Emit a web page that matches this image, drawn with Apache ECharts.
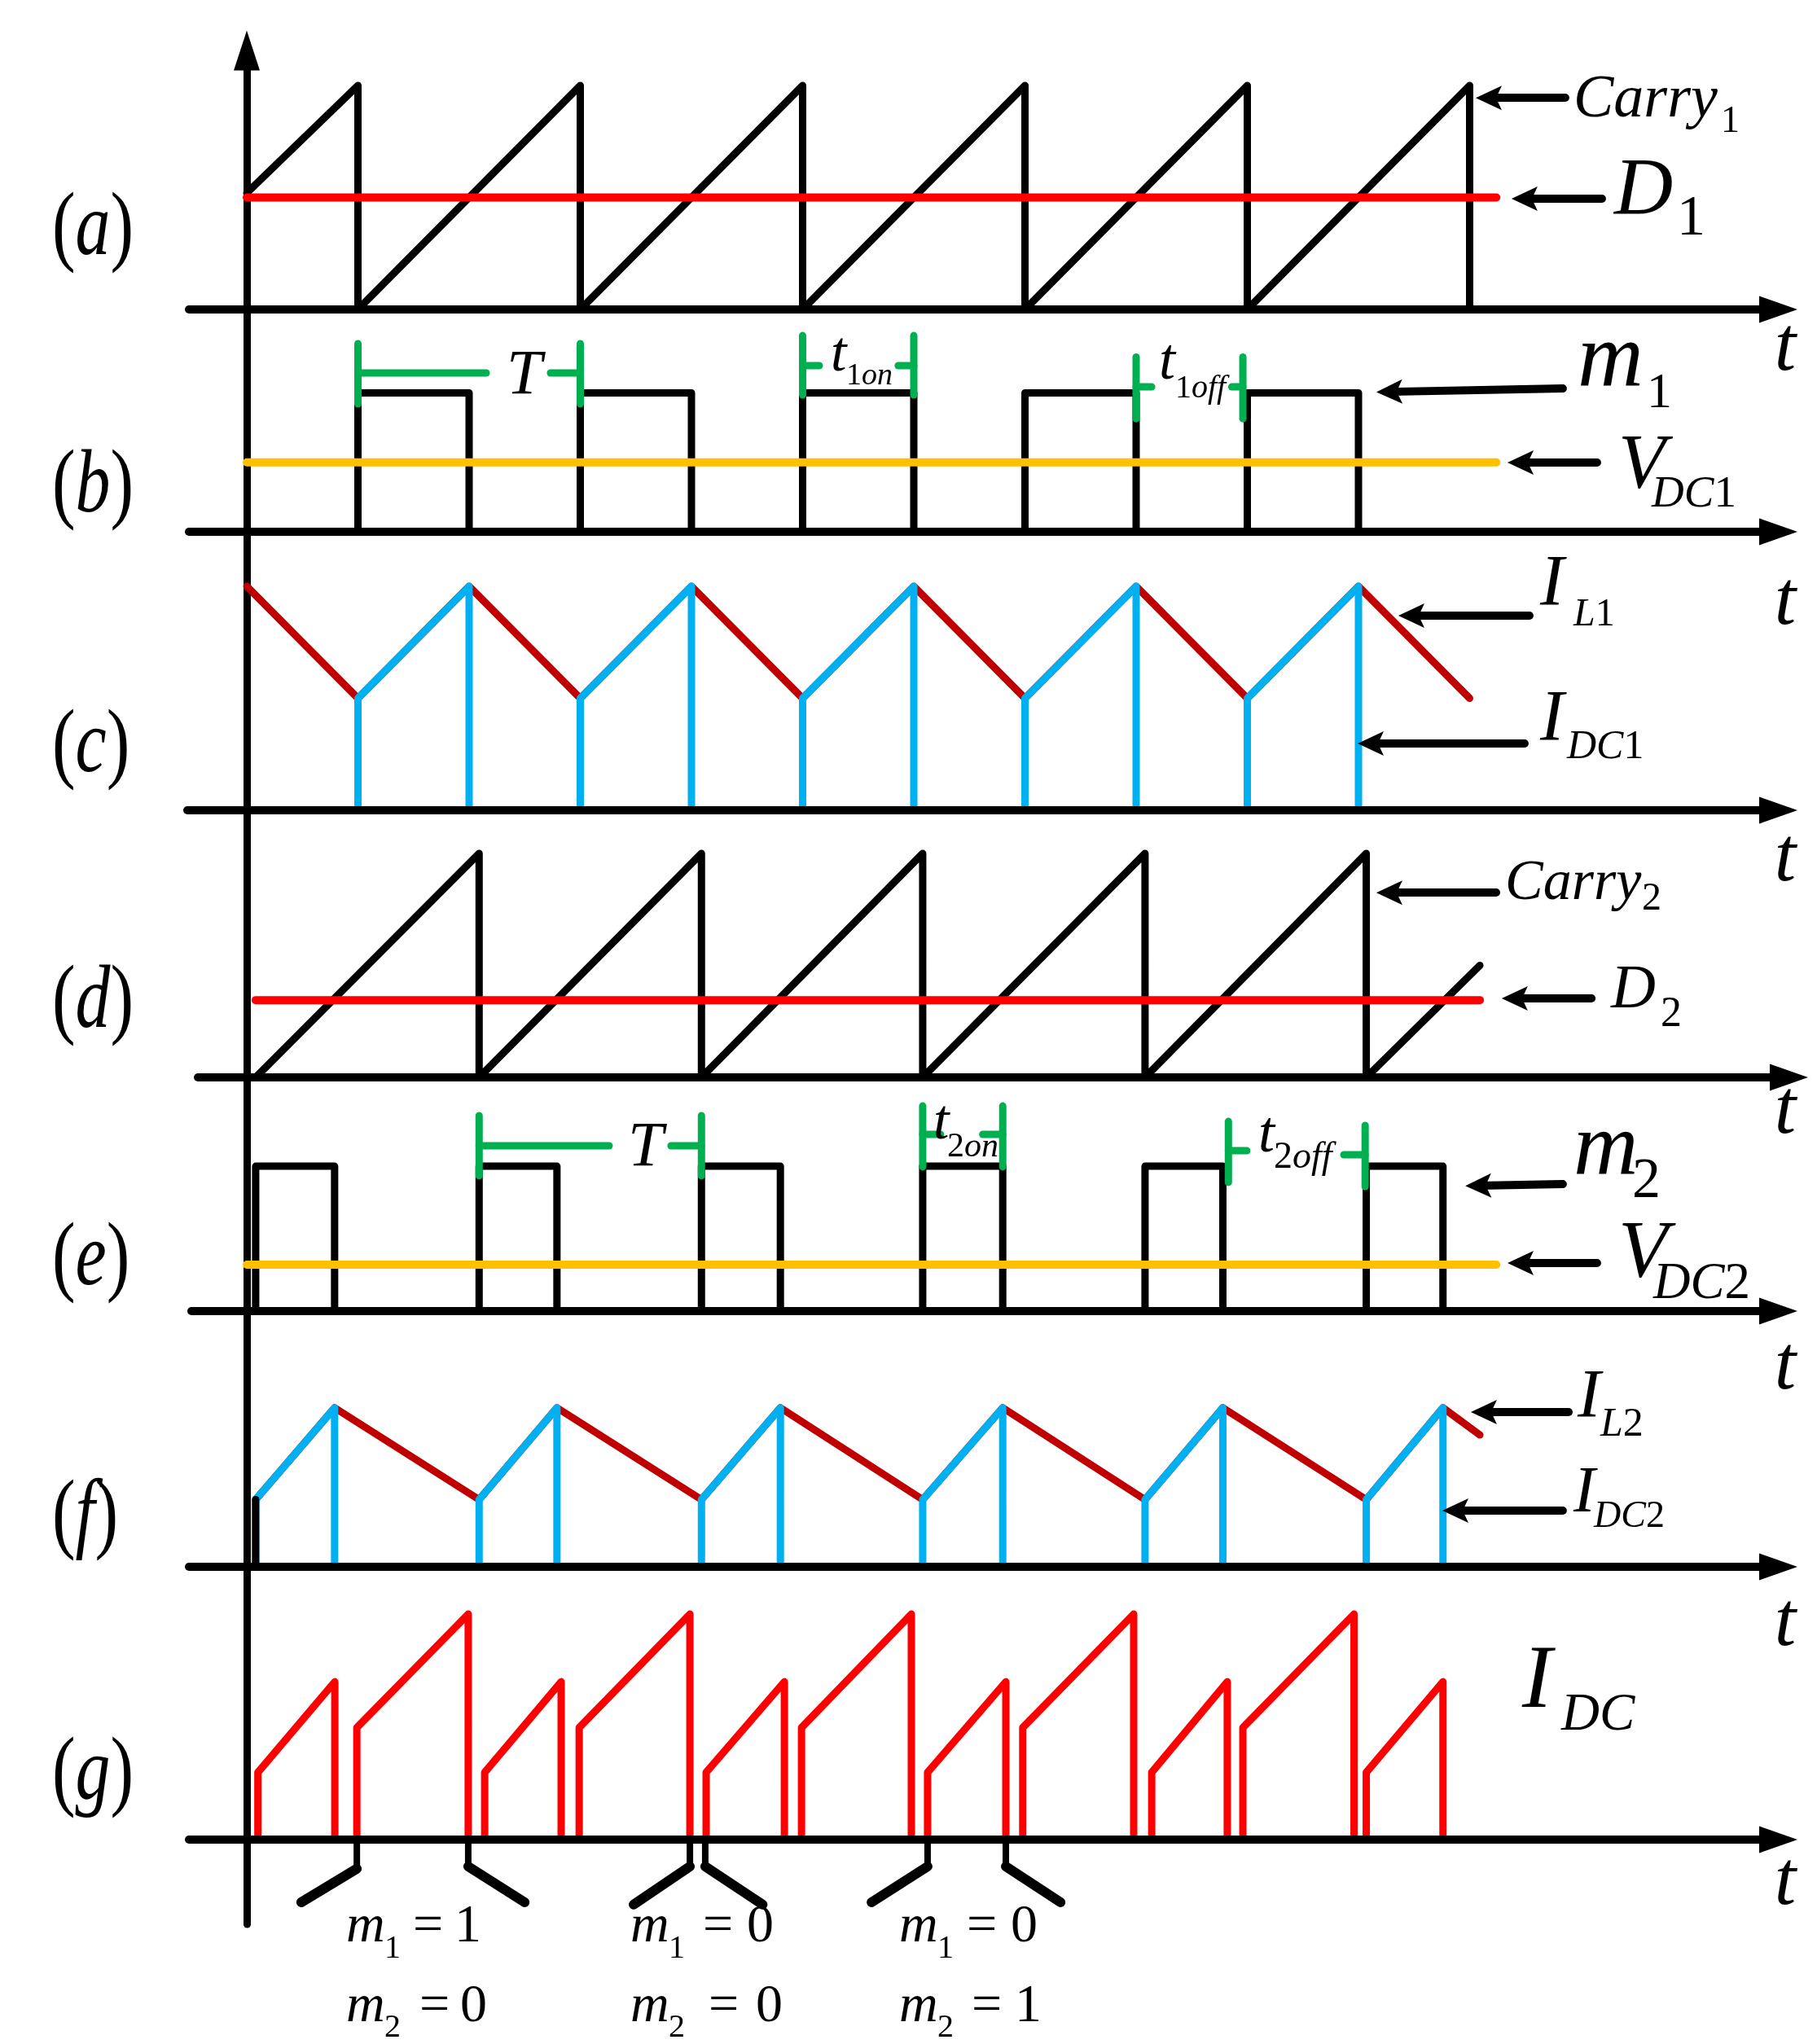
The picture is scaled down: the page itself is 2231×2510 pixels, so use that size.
<!DOCTYPE html>
<html>
<head>
<meta charset="utf-8">
<script src="https://cdn.jsdelivr.net/npm/echarts@6/dist/echarts.min.js"></script>
<style>html,body{margin:0;padding:0;background:#fff}#c{width:2231px;height:2510px}</style>
</head>
<body>
<div id="c"></div>
<script>
// ===================== DATA (time in switching periods T, amplitude in carrier units) =====================
const panelLetters = ['a', 'b', 'c', 'd', 'e', 'f', 'g'];

// (a) carrier 1 and duty D1
const carry1 = [[0, 0.52], [0.5, 1], [0.5, 0], [1.5, 1], [1.5, 0], [2.5, 1], [2.5, 0], [3.5, 1], [3.5, 0], [4.5, 1], [4.5, 0], [5.5, 1], [5.5, 0]];
const d1Line = [[0, 0.5], [5.62, 0.5]];

// (b) switching function m1 and V_DC1
const m1On = [0.5, 1.5, 2.5, 3.5, 4.5];
const m1Off = [1.0, 2.0, 3.0, 4.0, 5.0];
const m1High = 0.62;
const vdc1Line = [[0, 0.31], [5.62, 0.31]];
const greenB = [
  [[0.5, 0.571], [0.5, 0.84]], [[0.5, 0.709], [1.077, 0.709]], [[1.366, 0.709], [1.5, 0.709]], [[1.5, 0.571], [1.5, 0.84]],
  [[2.5, 0.611], [2.5, 0.876]], [[2.5, 0.742], [2.575, 0.742]], [[2.93, 0.742], [3.0, 0.742]], [[3.0, 0.611], [3.0, 0.876]],
  [[4.0, 0.505], [4.0, 0.78]], [[4.0, 0.647], [4.07, 0.647]], [[4.43, 0.647], [4.48, 0.647]], [[4.48, 0.505], [4.48, 0.78]]
];

// (c) inductor current I_L1 and I_DC1
const iL1 = [[0, 1], [0.5, 0.5], [1, 1], [1.5, 0.5], [2, 1], [2.5, 0.5], [3, 1], [3.5, 0.5], [4, 1], [4.5, 0.5], [5, 1], [5.5, 0.5]];
const iL1Valley = 0.5, iL1Peak = 1.0;

// (d) carrier 2 and duty D2
const carry2 = [[0.04, 0], [1.045, 1], [1.045, 0], [2.045, 1], [2.045, 0], [3.04, 1], [3.04, 0], [4.04, 1], [4.04, 0], [5.035, 1], [5.035, 0], [5.546, 0.5]];
const d2Line = [[0.04, 0.345], [5.546, 0.345]];

// (e) switching function m2 and V_DC2
const m2On = [0.04, 1.045, 2.045, 3.04, 4.04, 5.035];
const m2Off = [0.395, 1.395, 2.4, 3.4, 4.39, 5.38];
const m2High = 0.647;
const vdc2Line = [[0, 0.207], [5.62, 0.207]];
const greenE = [
  [[1.045, 0.604], [1.045, 0.873]], [[1.045, 0.738], [1.63, 0.738]], [[1.908, 0.738], [2.045, 0.738]], [[2.045, 0.604], [2.045, 0.873]],
  [[3.04, 0.644], [3.04, 0.916]], [[3.04, 0.789], [3.12, 0.789]], [[3.31, 0.789], [3.40, 0.789]], [[3.40, 0.644], [3.40, 0.916]],
  [[4.415, 0.575], [4.415, 0.847]], [[4.415, 0.716], [4.498, 0.716]], [[4.934, 0.698], [5.03, 0.698]], [[5.03, 0.556], [5.03, 0.829]]
];

// (f) inductor current I_L2 and I_DC2
const iL2 = [[0.04, 0.30], [0.395, 0.71], [1.045, 0.30], [1.395, 0.71], [2.045, 0.30], [2.4, 0.71], [3.04, 0.30], [3.4, 0.71], [4.04, 0.30], [4.39, 0.71], [5.035, 0.30], [5.38, 0.71], [5.546, 0.589]];
const iL2Valley = 0.30, iL2Peak = 0.71;
const iL2Start = [[0.04, 0], [0.04, 0.30]];

// (g) total DC current I_DC
const gM2On = [0.05, 1.07, 2.066, 3.062, 4.07, 5.035];
const gM2Off = [0.396, 1.414, 2.418, 3.414, 4.41, 5.38];
const gM2Lo = 0.30, gM2Hi = 0.705;
const gM1On = [0.495, 1.495, 2.495, 3.49, 4.48];
const gM1Off = [0.996, 1.993, 2.989, 3.989, 4.98];
const gM1Lo = 0.50, gM1Hi = 1.007;
// state brackets under (g): [t at axis, y of knee, t end, y end]
const brackets = [[0.495, -0.13, 0.245, -0.28], [0.996, -0.12, 1.25, -0.28], [1.993, -0.12, 1.74, -0.29], [2.062, -0.12, 2.32, -0.29], [3.062, -0.12, 2.81, -0.28], [3.414, -0.12, 3.66, -0.28]];
const switchStates = [['1', '0'], ['0', '0'], ['0', '1']];

// annotation arrows per panel: [tip, tail]
const arrowsA = [[[5.531, 0.945], [5.93, 0.945]], [[5.692, 0.495], [6.095, 0.495]]];
const arrowsB = [[[5.084, 0.625], [5.919, 0.64]], [[5.674, 0.309], [6.073, 0.309]]];
const arrowsC = [[[5.183, 0.869], [5.769, 0.869]], [[5.0, 0.298], [5.747, 0.298]]];
const arrowsD = [[[5.084, 0.825], [5.619, 0.825]], [[5.648, 0.353], [6.048, 0.353]]];
const arrowsE = [[[5.484, 0.56], [5.919, 0.567]], [[5.674, 0.215], [6.073, 0.215]]];
const arrowsF = [[[5.509, 0.691], [5.945, 0.691]], [[5.381, 0.251], [5.919, 0.251]]];

// ===================== LAYOUT =====================
const X0 = 303, PX_T = 273, PX_Y = 275;
const panels = [
  { axisY: 380, left: 232, tip: 2207 },
  { axisY: 653, left: 232, tip: 2207 },
  { axisY: 995, left: 230, tip: 2207 },
  { axisY: 1323, left: 243, tip: 2220 },
  { axisY: 1610, left: 235, tip: 2207 },
  { axisY: 1924, left: 232, tip: 2207 },
  { axisY: 2259, left: 232, tip: 2207 }
];
const ARROW_LEN = 47;
const C = { black: '#000000', red: '#FF0000', yellow: '#FFC000', dark: '#C00000', blue: '#00B0F0', green: '#00B050' };

const grids = [], xAxes = [], yAxes = [], series = [];
panels.forEach((p, i) => {
  const right = p.tip - ARROW_LEN / 2;
  grids.push({ left: p.left, top: p.axisY - PX_Y, width: right - p.left, height: PX_Y, show: false, containLabel: false, outerBoundsMode: 'none' });
  xAxes.push({
    gridIndex: i, type: 'value', min: (p.left - X0) / PX_T, max: (right - X0) / PX_T, z: 10,
    axisLine: { show: true, onZero: false, symbol: ['none', 'triangle'], symbolSize: [33, ARROW_LEN], lineStyle: { color: '#000', width: 10 } },
    axisTick: { show: false }, axisLabel: { show: false }, splitLine: { show: false }
  });
  yAxes.push({ gridIndex: i, type: 'value', min: 0, max: 1, show: false });
});
// main vertical axis
grids.push({ left: X0, top: 62, width: 50, height: 2363 - 62, show: false, containLabel: false, outerBoundsMode: 'none' });
xAxes.push({ gridIndex: 7, type: 'value', show: false, min: 0, max: 1 });
yAxes.push({
  gridIndex: 7, type: 'value', min: 0, max: 1, position: 'left', z: 1,
  axisLine: { show: true, onZero: false, symbol: ['none', 'triangle'], symbolSize: [32, 49], lineStyle: { color: '#000', width: 9 } },
  axisTick: { show: false }, axisLabel: { show: false }, splitLine: { show: false }
});

function addLine(gi, pts, color, width, z) {
  series.push({
    type: 'line', xAxisIndex: gi, yAxisIndex: gi, data: pts, showSymbol: false, symbol: 'none',
    clip: false, silent: true, animation: false, z: z || 2,
    lineStyle: { color: color, width: width, cap: 'round', join: 'round' }
  });
}
function pulses(on, off, lo, hi) {
  return on.map((t, k) => [[t, 0], [t, lo], [off[k], hi], [off[k], 0]]);
}
const ARROW = 'path://M15,0L30,32L15,25L0,32Z';
function addArrows(gi, list) {
  list.forEach(([tip, tail]) => {
    const dir = Math.sign(tail[0] - tip[0]);
    series.push({
      type: 'lines', coordinateSystem: 'cartesian2d', xAxisIndex: gi, yAxisIndex: gi, silent: true, animation: false, z: 3,
      symbol: [ARROW, 'none'], symbolSize: [[30, 32], 1],
      lineStyle: { color: '#000', width: 10, opacity: 1, curveness: 0, cap: 'round' },
      data: [{ coords: [[tip[0] + dir * 15 / PX_T, tip[1]], tail] }]
    });
  });
}

const SW = 9; // signal line width
// (a)
addLine(0, carry1, C.black, SW);
addLine(0, d1Line, C.red, 10);
addArrows(0, arrowsA);
// (b)
pulses(m1On, m1Off, m1High, m1High).forEach(p => addLine(1, p, C.black, SW));
addLine(1, vdc1Line, C.yellow, 10);
greenB.forEach(g => addLine(1, g, C.green, 9, 4));
addArrows(1, arrowsB);
// (c)
addLine(2, iL1, C.dark, 9);
pulses(m1On, m1Off, iL1Valley, iL1Peak).forEach(p => addLine(2, p, C.blue, 9));
addArrows(2, arrowsC);
// (d)
addLine(3, carry2, C.black, SW);
addLine(3, d2Line, C.red, 10);
addArrows(3, arrowsD);
// (e)
pulses(m2On, m2Off, m2High, m2High).forEach(p => addLine(4, p, C.black, SW));
addLine(4, vdc2Line, C.yellow, 10);
greenE.forEach(g => addLine(4, g, C.green, 9, 4));
addArrows(4, arrowsE);
// (f)
addLine(5, iL2, C.dark, 9);
pulses(m2On, m2Off, iL2Valley, iL2Peak).forEach(p => addLine(5, p, C.blue, 9));
addLine(5, iL2Start, C.black, SW, 3);
addArrows(5, arrowsF);
// (g)
pulses(gM2On, gM2Off, gM2Lo, gM2Hi).forEach(p => addLine(6, p, C.red, 9));
pulses(gM1On, gM1Off, gM1Lo, gM1Hi).forEach(p => addLine(6, p, C.red, 9));
brackets.forEach(([t, y1, t2, y2]) => {
  addLine(6, [[t, 0], [t, y1]], C.black, 8);
  addLine(6, [[t, y1], [t2, y2]], C.black, 12);
});

// ===================== TEXT =====================
const FAM = 'Liberation Serif';
const K = 0.32; // middle-baseline offset
const elements = [];
function fontStr(fs, italic) { return (italic ? 'italic ' : '') + fs + 'px "' + FAM + '"'; }
function runs(str) {
  const out = []; let cur = '', isDig = null;
  for (const ch of str) {
    const d = /[0-9=]/.test(ch);
    if (isDig === null || d === isDig) { cur += ch; } else { out.push([cur, !isDig]); cur = ch; }
    isDig = d;
  }
  if (cur) out.push([cur, !isDig]);
  return out;
}
function txt(str, x, base, fs, opts) {
  opts = opts || {};
  const parts = runs(str);
  const rich = {
    i: { font: fontStr(fs, true), fontFamily: FAM, fontSize: fs, fontStyle: 'italic', fill: '#000' },
    n: { font: fontStr(fs, false), fontFamily: FAM, fontSize: fs, fontStyle: 'normal', fill: '#000' }
  };
  const text = parts.map(([s, it]) => '{' + (it ? 'i' : 'n') + '|' + s + '}').join('');
  elements.push({
    type: 'text', x: x, y: base - K * fs, z: 100, silent: true, scaleX: opts.scaleX || 1,
    style: { text: text, rich: rich, font: fontStr(fs, false), fontFamily: FAM, fontSize: fs, fill: '#000', align: opts.align || 'left', verticalAlign: 'middle' }
  });
}
// panel labels (a)-(g)
const labelCenters = [291, 607, 926, 1240, 1556, 1872, 2188];
panelLetters.forEach((L, i) => {
  const fs = 110;
  elements.push({
    type: 'text', x: 64, y: labelCenters[i] - 0.07 * fs, z: 100, silent: true, scaleX: 0.78,
    style: {
      text: '{p|(}{i|' + L + '}{p|)}', font: fontStr(fs, false), fontFamily: FAM, fontSize: fs, align: 'left', verticalAlign: 'middle',
      rich: {
        p: { font: fontStr(fs, false), fontFamily: FAM, fontSize: fs, fill: '#000' },
        i: { font: fontStr(fs, true), fontFamily: FAM, fontSize: fs, fontStyle: 'italic', fill: '#000' }
      }
    }
  });
});
// axis "t" labels
[459, 771, 1086, 1396, 1710, 2025, 2343].forEach(b => txt('t', 2192, b, 95, { align: 'center' }));
// signal names: [main, x, baseline, size, subscript, x, baseline, size]
const names = [
  ['Carry', 1932, 147, 74, '1', 2113, 165, 46],
  ['D', 1982, 268, 100, '1', 2059, 292, 70],
  ['m', 1937, 480, 112, '1', 2022, 504, 62],
  ['V', 1987, 604, 95, 'DC1', 2028, 625, 55],
  ['I', 1891, 747, 88, 'L1', 1932, 771, 48],
  ['I', 1891, 913, 88, 'DC1', 1924, 934, 50],
  ['Carry', 1848, 1108, 70, '2', 2016, 1120, 48],
  ['D', 1978, 1241, 76, '2', 2039, 1263, 52],
  ['m', 1932, 1448, 110, '2', 2004, 1474, 70],
  ['V', 1987, 1573, 100, 'DC2', 2030, 1598, 63],
  ['I', 1937, 1745, 85, 'L2', 1965, 1766, 50],
  ['I', 1932, 1861, 80, 'DC2', 1957, 1878, 46],
  ['I', 1869, 2102, 110, 'DC', 1917, 2128, 65],
  ['T', 622, 487, 78, '', 0, 0, 0],
  ['T', 771, 1435, 78, '', 0, 0, 0],
  ['t', 1020, 459, 70, '1on', 1039, 474, 38],
  ['t', 1423, 469, 72, '1off', 1443, 490, 40],
  ['t', 1146, 1402, 70, '2on', 1163, 1422, 42],
  ['t', 1545, 1418, 72, '2off', 1564, 1437, 46]
];
names.forEach(([a, ax, ab, afs, s, sx, sb, sfs]) => {
  txt(a, ax, ab, afs);
  if (s) txt(s, sx, sb, sfs);
});
// switching states under (g)
const gx = [425, 774, 1104], eq1 = [507, 863, 1187], v1 = [558, 917, 1241], eq2 = [515, 870, 1193], v2 = [565, 928, 1246];
switchStates.forEach(([a, b], k) => {
  txt('m', gx[k], 2388, 66); txt('1', gx[k] + 47, 2406, 40);
  txt('=', eq1[k], 2388, 66); txt(a, v1[k], 2388, 66);
  txt('m', gx[k], 2486, 66); txt('2', gx[k] + 47, 2503, 40);
  txt('=', eq2[k], 2486, 66); txt(b, v2[k], 2486, 66);
});

const chart = echarts.init(document.getElementById('c'), null, { renderer: 'canvas' });
chart.setOption({
  animation: false,
  backgroundColor: '#ffffff',
  textStyle: { fontFamily: FAM },
  grid: grids, xAxis: xAxes, yAxis: yAxes, series: series,
  graphic: { elements: elements }
});
</script>
</body>
</html>
